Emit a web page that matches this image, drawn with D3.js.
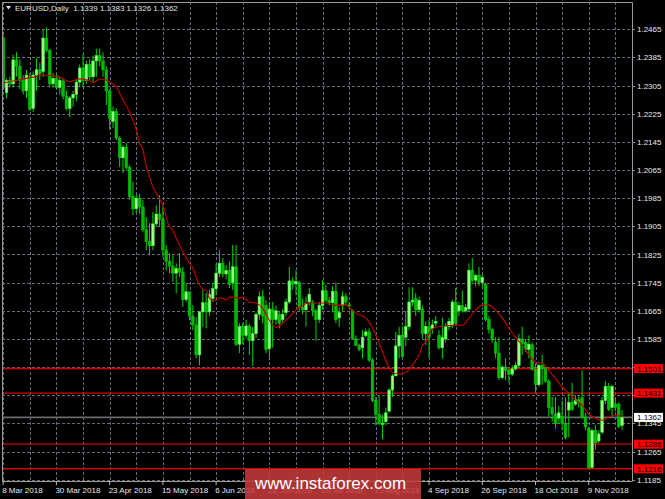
<!DOCTYPE html>
<html><head><meta charset="utf-8">
<script src="https://cdn.jsdelivr.net/npm/d3@7/dist/d3.min.js"></script>
<style>html,body{margin:0;padding:0;background:#000;overflow:hidden}</style>
</head><body><svg id="c" width="665" height="499"></svg>
<script>
const titleText = "EURUSD,Daily  1.1339 1.1383 1.1326 1.1362";
const dateLabels = ["8 Mar 2018","30 Mar 2018","23 Apr 2018","15 May 2018","6 Jun 2018","28 Jun 2018","20 Jul 2018","13 Aug 2018","4 Sep 2018","26 Sep 2018","18 Oct 2018","9 Nov 2018"];
const dateLabelBars = [0,16,32,48,64,80,96,112,128,144,160,176];
const priceTicks = [1.2465,1.2385,1.2305,1.2225,1.2145,1.2065,1.1985,1.1905,1.1825,1.1745,1.1665,1.1585,1.1505,1.1425,1.1345,1.1265,1.1185];
const levelLines = [1.1501,1.1431,1.1286,1.1216];
const lastPrice = 1.1362;

const opens = [1.2440,1.2285,1.2320,1.2310,1.2378,1.2360,1.2322,1.2290,1.2330,1.2240,1.2335,1.2350,1.2345,1.2440,1.2405,1.2310,1.2325,1.2300,1.2318,1.2275,1.2240,1.2270,1.2280,1.2315,1.2355,1.2320,1.2365,1.2330,1.2375,1.2390,
1.2375,1.2350,1.2290,1.2203,1.2231,1.2156,1.2100,1.2130,1.2072,1.1990,1.1955,1.1985,1.1960,1.1895,1.1862,1.1850,1.1912,1.1940,1.1925,1.1838,
1.1805,1.1792,1.1772,1.1785,1.1775,1.1697,1.1719,1.1650,1.1625,1.1540,1.1662,1.1688,1.1662,1.1700,1.1728,1.1772,1.1800,1.1770,1.1780,1.1745,
1.1790,1.1570,1.1620,1.1595,1.1622,1.1580,1.1600,1.1655,1.1705,1.1680,1.1557,1.1670,1.1640,1.1655,1.1640,1.1660,1.1690,1.1750,1.1742,1.1745,
1.1675,1.1668,1.1690,1.1690,1.1665,1.1640,1.1680,1.1722,1.1695,1.1688,1.1720,1.1645,1.1680,1.1705,1.1682,1.1665,1.1585,1.1567,1.1560,1.1595,
1.1605,1.1525,1.1410,1.1370,1.1345,1.1350,1.1380,1.1440,1.1480,1.1565,1.1595,1.1590,1.1620,1.1690,1.1700,1.1668,1.1670,1.1600,1.1620,1.1615,
1.1630,1.1595,1.1560,1.1585,1.1620,1.1625,1.1690,1.1665,1.1680,1.1665,1.1670,1.1780,1.1752,1.1765,1.1745,1.1740,1.1640,1.1612,1.1575,1.1545,
1.1475,1.1505,1.1495,1.1485,1.1500,1.1510,1.1585,1.1575,1.1555,1.1568,1.1498,1.1455,1.1510,1.1505,1.1465,1.1390,1.1372,1.1360,1.1365,1.1345,
1.1383,1.1405,1.1400,1.1412,1.1418,1.1363,1.1330,1.1220,1.1325,1.1295,1.1320,1.1410,1.1450,1.1390,1.1400,1.1400,1.1339];
const highs = [1.2446,1.2325,1.2330,1.2393,1.2400,1.2380,1.2335,1.2350,1.2340,1.2345,1.2382,1.2370,1.2464,1.2470,1.2410,1.2340,1.2335,1.2330,1.2325,1.2290,1.2275,1.2290,1.2325,1.2365,1.2395,1.2375,1.2380,1.2390,1.2410,1.2410,
1.2400,1.2360,1.2295,1.2245,1.2241,1.2161,1.2136,1.2142,1.2079,1.2032,1.1995,1.1998,1.1980,1.1932,1.1914,1.1946,1.1965,1.1994,1.1961,1.1852,
1.1829,1.1823,1.1800,1.1829,1.1790,1.1744,1.1719,1.1681,1.1647,1.1662,1.1724,1.1715,1.1725,1.1745,1.1800,1.1837,1.1815,1.1795,1.1805,1.1852,
1.1852,1.1630,1.1630,1.1640,1.1628,1.1619,1.1660,1.1720,1.1725,1.1695,1.1690,1.1690,1.1680,1.1665,1.1670,1.1700,1.1790,1.1760,1.1780,1.1750,
1.1700,1.1705,1.1730,1.1695,1.1670,1.1690,1.1752,1.1740,1.1705,1.1735,1.1745,1.1675,1.1720,1.1715,1.1690,1.1670,1.1595,1.1572,1.1610,1.1615,
1.1615,1.1530,1.1420,1.1425,1.1370,1.1390,1.1445,1.1485,1.1605,1.1619,1.1620,1.1665,1.1732,1.1732,1.1715,1.1705,1.1680,1.1635,1.1640,1.1640,
1.1650,1.1610,1.1645,1.1630,1.1645,1.1697,1.1730,1.1690,1.1722,1.1685,1.1800,1.1815,1.1770,1.1790,1.1770,1.1745,1.1650,1.1615,1.1590,1.1590,
1.1510,1.1530,1.1500,1.1510,1.1520,1.1600,1.1620,1.1585,1.1595,1.1575,1.1515,1.1515,1.1540,1.1510,1.1470,1.1420,1.1420,1.1395,1.1410,1.1420,
1.1430,1.1460,1.1425,1.1425,1.1496,1.1375,1.1335,1.1330,1.1340,1.1325,1.1420,1.1465,1.1460,1.1455,1.1420,1.1405,1.1383];
const lows = [1.2294,1.2268,1.2300,1.2300,1.2330,1.2295,1.2280,1.2270,1.2233,1.2230,1.2290,1.2320,1.2330,1.2400,1.2300,1.2300,1.2295,1.2280,1.2265,1.2235,1.2215,1.2245,1.2260,1.2300,1.2300,1.2310,1.2320,1.2315,1.2330,1.2360,
1.2330,1.2250,1.2180,1.2184,1.2150,1.2074,1.2056,1.2065,1.1980,1.1937,1.1943,1.1940,1.1889,1.1837,1.1823,1.1837,1.1904,1.1904,1.1818,1.1780,
1.1772,1.1747,1.1715,1.1761,1.1676,1.1690,1.1638,1.1610,1.1530,1.1510,1.1619,1.1615,1.1650,1.1690,1.1710,1.1760,1.1760,1.1755,1.1730,1.1724,
1.1565,1.1545,1.1570,1.1585,1.1540,1.1508,1.1588,1.1640,1.1630,1.1545,1.1525,1.1560,1.1625,1.1615,1.1630,1.1650,1.1685,1.1725,1.1710,1.1665,
1.1655,1.1620,1.1680,1.1650,1.1580,1.1630,1.1668,1.1688,1.1680,1.1660,1.1630,1.1620,1.1665,1.1680,1.1670,1.1585,1.1565,1.1550,1.1530,1.1590,
1.1520,1.1405,1.1340,1.1340,1.1300,1.1340,1.1375,1.1420,1.1480,1.1530,1.1530,1.1565,1.1610,1.1678,1.1650,1.1660,1.1585,1.1568,1.1530,1.1600,
1.1620,1.1555,1.1530,1.1575,1.1610,1.1615,1.1625,1.1650,1.1660,1.1660,1.1665,1.1745,1.1735,1.1735,1.1730,1.1635,1.1600,1.1575,1.1530,1.1468,
1.1470,1.1468,1.1460,1.1480,1.1495,1.1505,1.1540,1.1548,1.1530,1.1495,1.1432,1.1450,1.1455,1.1460,1.1365,1.1350,1.1330,1.1345,1.1325,1.1300,
1.1305,1.1380,1.1395,1.1390,1.1358,1.1325,1.1215,1.1216,1.1270,1.1290,1.1315,1.1400,1.1380,1.1365,1.1380,1.1333,1.1326];
const closes = [1.2300,1.2320,1.2310,1.2378,1.2360,1.2320,1.2290,1.2335,1.2238,1.2335,1.2350,1.2340,1.2440,1.2405,1.2310,1.2325,1.2300,1.2320,1.2275,1.2240,1.2270,1.2280,1.2315,1.2355,1.2320,1.2365,1.2330,1.2375,1.2390,1.2375,
1.2350,1.2290,1.2212,1.2231,1.2156,1.2100,1.2130,1.2072,1.1990,1.1955,1.1985,1.1960,1.1895,1.1862,1.1850,1.1912,1.1940,1.1925,1.1838,1.1805,
1.1792,1.1772,1.1785,1.1775,1.1697,1.1719,1.1650,1.1625,1.1540,1.1662,1.1688,1.1662,1.1712,1.1728,1.1772,1.1800,1.1770,1.1780,1.1740,1.1790,
1.1570,1.1620,1.1595,1.1622,1.1580,1.1600,1.1655,1.1705,1.1650,1.1555,1.1670,1.1640,1.1665,1.1630,1.1655,1.1690,1.1750,1.1740,1.1748,1.1675,
1.1668,1.1685,1.1712,1.1665,1.1640,1.1680,1.1722,1.1695,1.1688,1.1720,1.1640,1.1660,1.1705,1.1690,1.1678,1.1585,1.1567,1.1555,1.1590,1.1605,
1.1525,1.1410,1.1370,1.1345,1.1345,1.1375,1.1440,1.1480,1.1565,1.1595,1.1535,1.1620,1.1690,1.1695,1.1668,1.1695,1.1600,1.1620,1.1590,1.1625,
1.1635,1.1560,1.1590,1.1620,1.1635,1.1690,1.1630,1.1680,1.1665,1.1675,1.1780,1.1752,1.1765,1.1745,1.1760,1.1640,1.1612,1.1582,1.1545,1.1475,
1.1505,1.1495,1.1485,1.1500,1.1510,1.1585,1.1572,1.1555,1.1570,1.1498,1.1455,1.1510,1.1500,1.1465,1.1390,1.1372,1.1345,1.1375,1.1345,1.1305,
1.1405,1.1385,1.1412,1.1405,1.1363,1.1335,1.1220,1.1325,1.1290,1.1315,1.1410,1.1450,1.1385,1.1450,1.1390,1.1335,1.1362];

const maBars = [0,3,9,12,17,20,23,26,27,29,31,32,34,36,38,40,41,42,43,44,45,46,48,50,51,52,54,56,57,58,60,61,62,63,64,65,66,67,68,69,71,72,74,76,78,80,82,84,86,88,90,92,94,97,100,103,104,106,109,111,113,115,117,119,121,123,124,125,126,127,128,130,132,135,138,140,142,144,146,148,150,152,154,156,158,160,162,164,166,168,170,172,174,176,178,180,182,184,186];
const maVals = [1.2313,1.2318,1.2329,1.2335,1.2329,1.2316,1.2324,1.2319,1.2313,1.2323,1.2321,1.2315,1.2301,1.2264,1.2230,1.2179,1.2142,1.2122,1.2074,1.2045,1.2017,1.1999,1.1965,1.1903,1.1894,1.1871,1.1834,1.1800,1.1786,1.1760,1.1726,1.1724,1.1701,1.1695,1.1695,1.1701,1.1701,1.1695,1.1704,1.1704,1.1701,1.1704,1.1690,1.1687,1.1672,1.1638,1.1618,1.1630,1.1647,1.1667,1.1681,1.1687,1.1687,1.1687,1.1681,1.1681,1.1675,1.1658,1.1644,1.1616,1.1573,1.1525,1.1490,1.1485,1.1490,1.1510,1.1525,1.1539,1.1567,1.1576,1.1601,1.1618,1.1621,1.1624,1.1624,1.1644,1.1667,1.1681,1.1681,1.1667,1.1644,1.1616,1.1590,1.1567,1.1539,1.1519,1.1516,1.1496,1.1473,1.1448,1.1431,1.1411,1.1397,1.1371,1.1360,1.1354,1.1363,1.1368,1.1365];

const svg = d3.select("#c");
const P = {l:2, t:2, r:632, b:481};
const x = d3.scaleLinear().domain([0,1]).range([3.2, 3.2+3.327]);
const y = d3.scaleLinear().domain([1.1185,1.2465]).range([479.7,29.3]);
const fmt = d3.format(".4f");
const FONT = "Liberation Sans, Arial, sans-serif";

svg.append("rect").attr("width",665).attr("height",499).attr("fill","#000");
svg.append("defs").append("clipPath").attr("id","pc").append("rect")
  .attr("x",P.l).attr("y",P.t).attr("width",P.r-P.l).attr("height",P.b-P.t);

const g = svg.append("g").attr("clip-path","url(#pc)");
const gridColor = "#5f6b78";
g.selectAll(".hg").data(priceTicks).join("line")
  .attr("x1",P.l).attr("x2",P.r).attr("y1",d=>Math.round(y(d))+0.5).attr("y2",d=>Math.round(y(d))+0.5)
  .attr("stroke",gridColor).attr("stroke-width",1).attr("stroke-dasharray","3,2");
const vBars = d3.range(0, opens.length, 8);
g.selectAll(".vg").data(vBars).join("line")
  .attr("x1",d=>Math.round(x(d))+0.5).attr("x2",d=>Math.round(x(d))+0.5).attr("y1",P.t).attr("y2",P.b)
  .attr("stroke",gridColor).attr("stroke-width",1).attr("stroke-dasharray","3,2");

g.selectAll(".lv").data(levelLines).join("line")
  .attr("x1",P.l).attr("x2",P.r).attr("y1",d=>y(d)).attr("y2",d=>y(d))
  .attr("stroke","#d40000").attr("stroke-width",1.4);
g.append("line").attr("x1",P.l).attr("x2",P.r).attr("y1",y(lastPrice)).attr("y2",y(lastPrice))
  .attr("stroke","#6a6a6a").attr("stroke-width",1.6);

const bars = opens.map((o,i)=>({i,o,h:highs[i],l:lows[i],c:closes[i]}));
const cg = g.append("g");
cg.selectAll(".wk").data(bars).join("line")
  .attr("x1",d=>x(d.i)).attr("x2",d=>x(d.i)).attr("y1",d=>y(d.h)).attr("y2",d=>y(d.l))
  .attr("stroke","#00d400").attr("stroke-width",1);
const bw = 2.6;
cg.selectAll(".bd").data(bars).join("rect")
  .attr("x",d=>x(d.i)-bw/2).attr("width",bw)
  .attr("y",d=>y(Math.max(d.o,d.c))).attr("height",d=>Math.max(1,Math.abs(y(d.o)-y(d.c))))
  .attr("fill",d=>d.c>=d.o?"#9dff8a":"#00b800")
  .attr("stroke",d=>d.c>=d.o?"#33ff33":"#00c800").attr("stroke-width",0.6);

const line = d3.line().x((d,k)=>x(maBars[k])).y(d=>y(d)).curve(d3.curveMonotoneX);
g.append("path").attr("d",line(maVals)).attr("fill","none").attr("stroke","#c40000").attr("stroke-width",1.1);

svg.append("path").attr("d",`M${P.l+0.5},${P.b} V${P.t+0.5} H${P.r+0.5} V${P.b+0.5}`)
  .attr("fill","none").attr("stroke","#9a9a9a").attr("stroke-width",1);
svg.append("line").attr("x1",P.l).attr("x2",P.r).attr("y1",P.b+0.5).attr("y2",P.b+0.5).attr("stroke","#9a9a9a");

const ax = svg.append("g");
ax.selectAll(".tk").data(priceTicks).join("line")
  .attr("x1",P.r).attr("x2",P.r+3).attr("y1",d=>Math.round(y(d))+0.5).attr("y2",d=>Math.round(y(d))+0.5).attr("stroke","#9a9a9a");
// tick labels hidden behind a level box are not drawn
const shownTicks = priceTicks.filter(t => !levelLines.some(l => Math.abs(y(l)-y(t)) < 4.5));
ax.selectAll(".tl").data(shownTicks).join("text")
  .attr("x",637).attr("y",d=>y(d)+3).text(d=>fmt(d))
  .attr("fill","#e8e8e8").attr("font-family",FONT).attr("font-size",8);

ax.selectAll(".dt").data(dateLabelBars).join("line")
  .attr("x1",d=>x(d)).attr("x2",d=>x(d)).attr("y1",P.b).attr("y2",P.b+4).attr("stroke","#bbbbbb");
ax.selectAll(".dl").data(dateLabels).join("text")
  .attr("x",(d,k)=>x(dateLabelBars[k])-1).attr("y",493).text(d=>d)
  .attr("fill","#e8e8e8").attr("font-family",FONT).attr("font-size",8);

const lb = ax.selectAll(".lb").data(levelLines).join("g");
lb.append("rect").attr("x",634).attr("y",d=>y(d)-4.5).attr("width",29).attr("height",9).attr("fill","#ff0000");
lb.append("text").attr("x",637).attr("y",d=>y(d)+3).text(d=>fmt(d))
  .attr("fill","#000").attr("font-family",FONT).attr("font-size",8);
ax.append("rect").attr("x",634).attr("y",y(lastPrice)-4.5).attr("width",29).attr("height",9).attr("fill","#ffffff");
ax.append("text").attr("x",637).attr("y",y(lastPrice)+3).text(fmt(lastPrice))
  .attr("fill","#000").attr("font-family",FONT).attr("font-size",8);

svg.append("path").attr("d","M6,6 L11,6 L8.5,9.5 Z").attr("fill","#e0e0e0");
svg.append("text").attr("x",15).attr("y",11).text(titleText)
  .attr("fill","#e0e0e0").attr("font-family",FONT).attr("font-size",8).style("white-space","pre");

svg.append("rect").attr("x",245).attr("y",469).attr("width",176).attr("height",30).attr("fill","rgb(196,58,58)").attr("opacity",0.88);
svg.append("text").attr("x",255).attr("y",489).text("www.instaforex.com")
  .attr("fill","#ffffff").attr("font-family",FONT).attr("font-size",17);
</script></body></html>
